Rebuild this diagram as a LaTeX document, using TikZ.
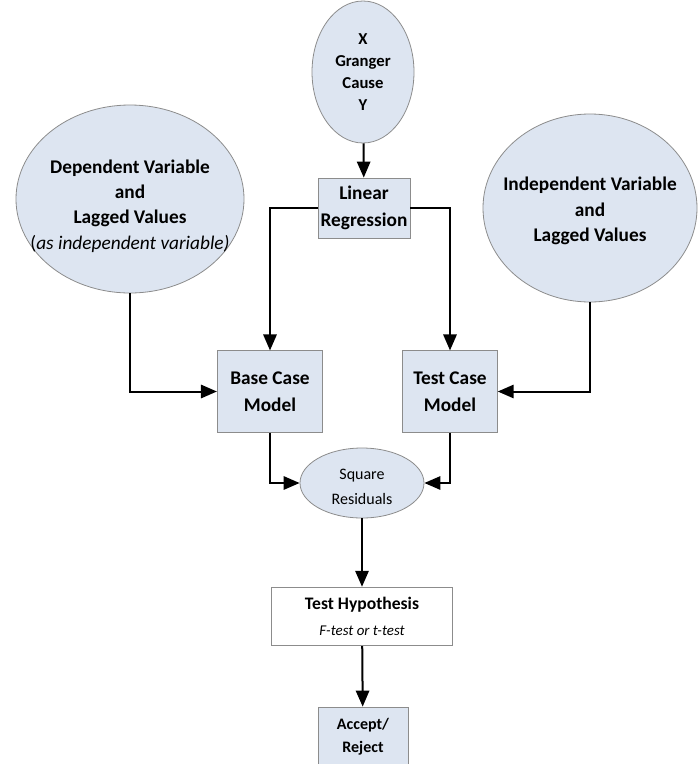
\documentclass[tikz,border=0pt]{standalone}
\usepackage{fontspec}
\setmainfont{Carlito}
\usepackage{tikz}
\usetikzlibrary{arrows.meta,shapes.geometric}
\tikzset{every picture/.style={line width=0.75pt}}
\definecolor{boxfill}{RGB}{221,229,241}
\definecolor{boxline}{RGB}{140,140,140}
\tikzset{
  ell/.style={ellipse, draw=boxline, fill=boxfill, line width=0.6pt, inner sep=0pt},
  blk/.style={rectangle, draw=boxline, fill=boxfill, line width=0.6pt, inner sep=0pt, align=center},
  conn/.style={line width=1.5pt, -{Triangle[length=12pt,width=10pt]}},
  big/.style={font=\fontsize{14.5}{19}\selectfont\bfseries, align=center},
  boxtxt/.style={font=\fontsize{14.5}{20}\selectfont\bfseries}
}

\begin{document}
\begin{tikzpicture}[x=0.75pt,y=0.75pt,yscale=-1,xscale=1]
\useasboundingbox (0,0) rectangle (699,764);

%Shape: Ellipse [id:granger]
\node [ell, minimum width=76.5pt, minimum height=106.5pt] (gc) at (363,72) {};
\node [font=\fontsize{12.5}{16.5}\selectfont\bfseries, align=center] (gc-txt) at (363,72) {X\\Granger\\Cause\\Y};
%Shape: Rectangle [id:linreg]
\node [blk, boxtxt, minimum width=69pt, minimum height=45pt] (lr) at (364,208) {Linear\\Regression};
%Shape: Ellipse [id:dependent]
\node [ell, minimum width=171pt, minimum height=141pt] (dep) at (130,199) {};
\node [big] (dep-txt) at (130,206) {Dependent Variable\\and\\Lagged Values\\{\mdseries(\itshape as independent variable\/)}};
%Shape: Ellipse [id:independent]
\node [ell, minimum width=160.5pt, minimum height=141pt] (ind) at (590,208) {};
\node [big] (ind-txt) at (590,211) {Independent Variable\\and\\Lagged Values};
%Shape: Rectangle [id:basecase]
\node [blk, boxtxt, minimum width=79pt, minimum height=61pt] (base) at (270,391.5) {Base Case\\Model};
%Shape: Rectangle [id:testcase]
\node [blk, boxtxt, minimum width=71pt, minimum height=61pt] (test) at (450,391.5) {Test Case\\Model};
%Shape: Ellipse [id:residuals]
\node [ell, minimum width=93pt, minimum height=52.5pt] (sq) at (362,483) {};
\node [font=\fontsize{12}{18.5}\selectfont, align=center] (sq-txt) at (362,487) {Square\\Residuals};
%Shape: Rectangle [id:hypothesis]
\node [blk, fill=white, minimum width=136pt, minimum height=44pt] (th) at (362,616.5) {{\fontsize{13.2}{17}\selectfont\bfseries Test Hypothesis}\\[7pt]{\fontsize{11.2}{14}\selectfont\itshape F-test or t-test}};
%Shape: Rectangle [id:decision]
\node [blk, minimum width=67.5pt, minimum height=60pt] (ar) at (363,747) {};
\node [font=\fontsize{12}{17}\selectfont\bfseries, align=center] (ar-txt) at (363,737) {Accept/\\Reject};

%Connectors
\draw [conn] (gc) -- (lr);
\draw [conn] (lr.west) -| (base.north);
\draw [conn] (lr.east) -| (test.north);
\draw [conn] (dep.south) |- (base.west);
\draw [conn] (ind.south) |- (test.east);
\draw [conn] (base.south) |- (sq.west);
\draw [conn] (test.south) |- (sq.east);
\draw [conn] (sq) -- (th);
\draw [conn] (th) -- (ar);
\end{tikzpicture}
\end{document}
